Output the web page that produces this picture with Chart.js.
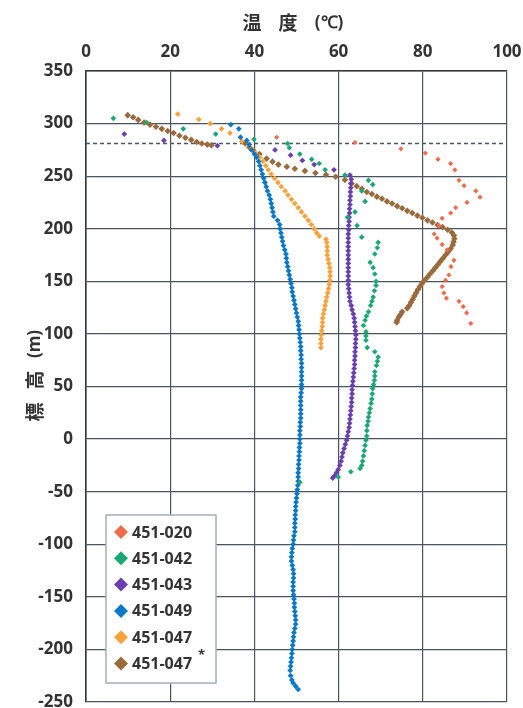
<!DOCTYPE html>
<html><head><meta charset="utf-8">
<script src="https://cdn.jsdelivr.net/npm/chart.js@4.4.1/dist/chart.umd.min.js"></script>
<style>html,body{margin:0;padding:0;background:#fff;}</style>
</head><body>
<canvas id="c" width="523" height="708" style="width:523px;height:708px;display:block"></canvas>
<script>
// ---- axis ticks / labels ----
const tempTicks = [0, 20, 40, 60, 80, 100];
const elevTicks = [350, 300, 250, 200, 150, 100, 50, 0, -50, -100, -150, -200, -250];
const xTitleParts = ['温', '度', '(℃)'];
const yTitleParts = ['標', '高', '(m)'];
const dashedElevation = 282;
const seriesLabels = ['451-020', '451-042', '451-043', '451-049', '451-047', '451-047'];
const seriesColors = ['#ee6c4c', '#1aa874', '#6a40b0', '#0a78c8', '#f8a23c', '#9a6a3c'];

// ---- 451-020 ----
const t020 = [45.3,63.9,74.8,80.6,83.6,86.6,87.6,88.6,89.8,92.6,93.6,90.5,87.8,86.6,84.6,83.8,82.7,83.4,84.6,85.8,87.4,86.7,86.2,85.4,84.6,85.0,85.6,88.6,89.6,90.4,91.4];
const e020 = [287,282,276,272,266,262,256,246,241,236,230,225,220,215,210,203,195,191,185,180,170,164,156,151,145,139,134,131,126,120,110];

// ---- 451-042 ----
const t042 = [6.5,14.4,23.1,30.8,39.9,47.9,48.3,50.8,53.6,55.4,56.8,61.5,67.1,68.1,65.5,66.3,63.9,62.1,64.4,65.5,69.4,69.2,68.6,67.5,68.2,68.6,68.9,68.9,68.5,68.2,67.9,67.6,67.1,66.6,66.3,65.9,66.5,66.5,66.5,66.8,68.6,69.4,69.2,69.0,68.6,68.6,68.5,68.3,68.1,68.0,67.9,67.7,67.5,67.3,67.1,67.0,66.8,66.7,66.7,66.5,66.3,66.1,65.9,65.7,65.5,65.1,62.9,59.9,50.8];
const e042 = [305,301,295,290,285,281,277,271,266,262,256,251,246,242,236,226,216,211,203,192,187,182,176,168,163,157,150,146,141,135,131,127,121,117,113,108,102,98,94,87,83,78,74,70,64,60,56,52,48,43,38,34,29,25,21,17,13,8,3,-1,-6,-11,-16,-21,-25,-28,-31,-36,-41];

// ---- 451-043 ----
const t043 = [9.1,18.5,31.2,44.9,48.6,51.4,54.2,58.9,62.7,63.0,62.9,62.9,62.8,62.8,62.7,62.7,62.6,62.6,62.5,62.5,62.4,62.4,62.3,62.3,62.3,62.3,62.3,62.3,62.3,62.3,62.3,62.3,62.3,62.3,62.3,62.4,62.5,62.6,62.7,63.0,63.2,63.5,63.7,63.8,63.9,64.0,64.1,64.1,64.0,64.0,63.9,63.9,63.8,63.8,63.7,63.6,63.5,63.4,63.3,63.2,63.2,63.1,63.1,63.0,62.9,62.8,62.7,62.6,62.5,62.3,62.1,61.9,61.6,61.3,61.0,60.8,60.6,60.3,59.9,59.5,59.0,58.6];
const e043 = [290,284,279,275,270,265,261,256,251,247,243,239,235,231,227,223,219,215,211,207,203,199,195,191,187,183,179,175,171,167,163,159,155,151,147,143,139,135,131,127,123,119,115,111,107,103,99,95,91,87,83,79,75,71,67,63,59,55,51,47,43,39,35,31,27,23,19,15,11,7,3,-1,-5,-9,-13,-17,-21,-25,-29,-32,-35,-37];

// ---- 451-049 ----
const t049 = [34.4,36.3,36.7,38.2,38.8,39.3,40.0,40.5,41.0,41.3,41.6,41.9,42.2,42.5,42.8,43.1,43.5,43.8,44.0,44.2,44.4,44.6,45.5,46.0,46.1,46.3,46.5,46.7,46.9,47.2,47.5,47.6,47.7,47.9,48.1,48.3,48.5,48.7,48.9,49.0,49.2,49.4,49.6,49.8,50.0,50.2,50.4,50.5,50.6,50.7,50.8,50.9,51.0,51.0,51.1,51.1,51.2,51.2,51.2,51.2,51.2,51.2,51.2,51.1,51.0,51.0,51.0,51.0,51.0,51.0,50.9,50.9,50.8,50.8,50.8,50.8,50.7,50.7,50.6,50.6,50.5,50.5,50.4,50.4,50.4,50.3,50.2,50.1,50.0,49.9,49.8,49.8,49.7,49.7,49.6,49.6,49.6,49.4,49.3,49.2,49.0,48.9,48.8,48.8,49.0,49.2,49.3,49.3,49.2,49.2,49.2,49.3,49.4,49.5,49.5,49.6,49.7,49.8,49.8,49.6,49.4,49.3,49.2,49.1,49.0,48.9,48.8,48.7,48.6,48.5,48.6,48.9,49.2,49.8,50.4];
const e049 = [299,295,287,284,280,275,271,268,264,260,256,252,248,244,240,236,232,228,224,220,216,212,208,204,200,196,192,188,184,180,176,172,168,164,160,156,152,148,144,140,136,132,128,124,120,116,112,108,104,100,96,92,88,84,80,76,72,68,64,60,56,52,48,44,40,36,32,28,24,20,16,12,8,4,0,-4,-8,-12,-16,-20,-24,-28,-32,-36,-40,-44,-48,-52,-56,-60,-64,-68,-72,-76,-80,-84,-88,-92,-96,-100,-104,-108,-112,-116,-120,-124,-128,-132,-136,-140,-144,-148,-152,-156,-160,-164,-168,-172,-176,-180,-184,-188,-192,-196,-200,-204,-208,-212,-216,-220,-225,-229,-232,-235,-238,-241];

// ---- 451-047 ----
const t047 = [21.8,26.8,29.5,32.2,34.2,37.0,39.4,40.3,41.3,42.0,42.7,43.3,44.0,44.8,45.6,46.4,47.3,48.0,48.8,49.6,50.4,51.2,52.0,52.8,53.5,54.2,54.8,55.4,57.0,57.2,57.3,57.3,57.3,57.5,57.7,57.9,58.0,58.0,57.9,57.8,57.6,57.4,57.2,57.0,56.8,56.6,56.4,56.2,56.2,56.1,56.0,55.9,55.8,55.8,55.8];
const e047 = [309,304,300,295,291,283,276,272,268,264,260,256,252,248,244,240,236,232,228,224,220,216,212,208,204,200,196,193,190,187,183,179,175,171,167,163,159,155,151,147,143,139,135,131,127,123,119,115,111,107,103,99,95,91,87];

// ---- 451-047* ----
const t047s = [9.9,11.2,12.4,13.8,15.2,16.6,18.0,19.4,20.8,22.2,23.6,25.0,26.3,27.5,28.8,29.8,37.8,38.8,39.7,41.2,42.9,44.3,45.7,47.7,49.6,52.0,54.5,57.0,59.3,61.5,63.1,64.3,65.5,66.7,67.9,69.1,70.3,71.5,72.7,73.9,75.1,76.3,77.5,78.7,79.9,81.1,82.3,83.5,84.7,85.9,86.9,87.4,87.5,87.3,87.1,86.6,86.0,85.4,84.8,84.2,83.6,83.0,82.4,81.7,81.1,80.4,79.8,79.3,78.8,78.4,78.0,77.6,77.2,76.8,76.3,75.1,74.7,74.3,73.9,73.8];
const e047s = [308,306,303.5,301,299,297,295,293,291,288.5,286.5,284.5,282.5,281,280,279.5,281,277.5,274.6,271,266.7,263.8,261,259,257,255,253,251.3,249.5,246.5,243,240.5,238,235,233,230.5,228.5,226,224,221.5,219.5,217,215,212.5,210.5,208,206,203.5,201.5,199,196.5,193.5,190.5,187.5,184.5,181,178,175,172,169,166,163,160,157,154,151,148,145,142,139,136,133,130,127,124.5,121,118.5,116,113,111];

const pairs = (t, e) => t.map((v, i) => ({x: v, y: e[i]}));
const seriesData = [pairs(t020,e020), pairs(t042,e042), pairs(t043,e043), pairs(t049,e049), pairs(t047,e047), pairs(t047s,e047s)];
const radii = [2.6, 2.8, 2.9, 2.9, 2.9, 3.3];

const gridColor = '#4a5560';
const tickFont = {family: 'Open Sans', size: 17, weight: 'bold'};
const textColor = '#333';
const cjkFont = 'bold 19px "Noto Sans CJK JP"';
const parenFont = 'bold 17px "Open Sans"';

const decor = {
  id: 'decor',
  beforeDatasetsDraw(chart) {
    const {ctx, chartArea: a, scales: {y}} = chart;
    const py = Math.round(y.getPixelForValue(dashedElevation)) + 0.5;
    ctx.save();
    ctx.setLineDash([4, 3]);
    ctx.strokeStyle = '#4a5866';
    ctx.lineWidth = 1.5;
    ctx.beginPath(); ctx.moveTo(a.left, py); ctx.lineTo(a.right, py); ctx.stroke();
    ctx.restore();
  },
  afterDraw(chart) {
    const {ctx, chartArea: a} = chart;
    ctx.save();
    // axis titles
    ctx.fillStyle = textColor;
    ctx.textAlign = 'center'; ctx.textBaseline = 'middle';
    const xPos = [252, 288, 329];
    xTitleParts.forEach((s, i) => {
      ctx.font = i < 2 ? cjkFont : parenFont;
      ctx.fillText(s, xPos[i], 23);
    });
    const yPos = [412, 380, 344];
    yTitleParts.forEach((s, i) => {
      ctx.save();
      ctx.translate(35, yPos[i]); ctx.rotate(-Math.PI / 2);
      ctx.font = i < 2 ? cjkFont : parenFont;
      ctx.fillText(s, 0, 0);
      ctx.restore();
    });
    ctx.restore();
    // legend
    ctx.save();
    const lx = a.left + 20, ly = a.bottom - 187, lw = 110, lh = 168;
    ctx.fillStyle = '#fff';
    ctx.fillRect(lx, ly, lw, lh);
    ctx.strokeStyle = '#9fb0bc'; ctx.lineWidth = 1.5;
    ctx.strokeRect(lx, ly, lw, lh);
    ctx.font = 'bold 16px "Open Sans"';
    ctx.textAlign = 'left'; ctx.textBaseline = 'middle';
    seriesLabels.forEach((lab, i) => {
      const cy = ly + 17 + i * 26.3;
      const cx = lx + 15;
      ctx.fillStyle = seriesColors[i];
      ctx.beginPath();
      ctx.moveTo(cx, cy - 7); ctx.lineTo(cx + 7, cy); ctx.lineTo(cx, cy + 7); ctx.lineTo(cx - 7, cy); ctx.closePath();
      ctx.fill();
      ctx.fillStyle = textColor;
      ctx.fillText(lab, lx + 26, cy + 1);
      if (i === 5) {
        ctx.font = 'bold 13px "Open Sans"';
        ctx.fillText('*', lx + 92, cy - 8);
      }
    });
    ctx.restore();
  }
};

new Chart(document.getElementById('c'), {
  type: 'scatter',
  data: {
    datasets: seriesData.map((d, i) => ({
      label: seriesLabels[i],
      data: d,
      pointStyle: 'rectRot',
      pointRadius: radii[i],
      backgroundColor: seriesColors[i],
      borderColor: seriesColors[i],
      borderWidth: 0,
      showLine: false
    }))
  },
  options: {
    responsive: false,
    animation: false,
    devicePixelRatio: 1,
    layout: {padding: {left: 0, top: 0, right: 16, bottom: 6}},
    plugins: {legend: {display: false}, tooltip: {enabled: false}},
    scales: {
      x: {
        type: 'linear', position: 'top', min: 0, max: 100,
        afterBuildTicks: s => { s.ticks = tempTicks.map(v => ({value: v})); },
        ticks: {font: tickFont, color: textColor, padding: 9, maxRotation: 0},
        grid: {color: gridColor, lineWidth: 1.2, drawTicks: false},
        border: {color: '#33393f', width: 1.6},
        afterFit: s => { s.height = 71; s.paddingLeft = 0; s.paddingRight = 0; }
      },
      y: {
        type: 'linear', position: 'left', min: -250, max: 350,
        afterBuildTicks: s => { s.ticks = elevTicks.map(v => ({value: v})); },
        ticks: {font: tickFont, color: textColor, padding: 13},
        grid: {color: gridColor, lineWidth: 1.2, drawTicks: false},
        border: {color: '#33393f', width: 1.6},
        afterFit: s => { s.width = 86; s.paddingTop = 0; s.paddingBottom = 0; }
      }
    }
  },
  plugins: [decor]
});
</script>
</body></html>
